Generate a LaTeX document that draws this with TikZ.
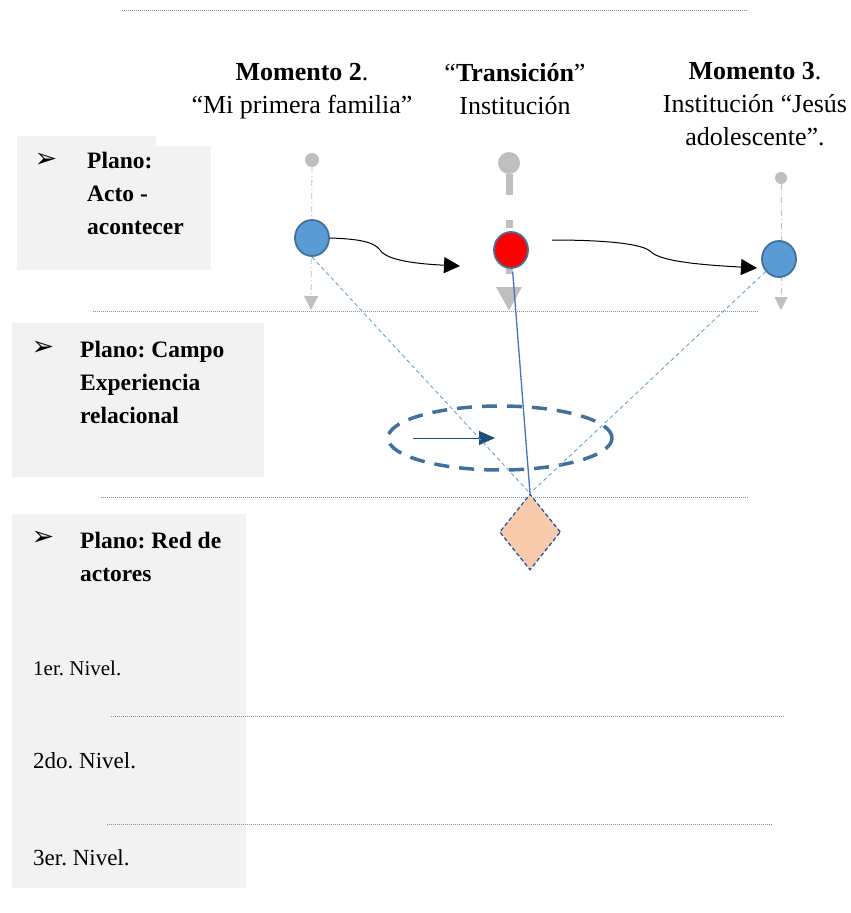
\documentclass[tikz,border=0pt]{standalone}
\usepackage{fontspec}
\setmainfont{Liberation Serif}
\newfontfamily\dvs{DejaVu Sans}
\usetikzlibrary{arrows.meta,shapes.geometric}
\frenchspacing
\definecolor{panel}{HTML}{F2F2F2}
\definecolor{sepline}{HTML}{8C8C9C}
\definecolor{nodeblue}{HTML}{5B9BD5}
\definecolor{rimblue}{HTML}{41719C}
\definecolor{ghost}{HTML}{BFBFBF}
\definecolor{peach}{HTML}{F8CBAD}
\definecolor{navy}{HTML}{2F5597}
\definecolor{darknavy}{HTML}{1F4E79}
\definecolor{linkblue}{HTML}{4472C4}
\tikzset{
  sep/.style={sepline, line width=0.6pt, dash pattern=on 1pt off 1pt},
  hdr/.style={align=center, inner sep=0pt, font=\fontsize{26}{33}\selectfont},
  lbl/.style={align=left, anchor=north west, inner sep=0pt, font=\fontsize{23.5}{33}\selectfont\bfseries},
  bullet/.style={inner sep=0pt, font=\dvs\fontsize{27}{27}\selectfont},
  lvl/.style={anchor=west, inner sep=0pt},
  bead/.style={ellipse, minimum width=34pt, minimum height=36pt, inner sep=0pt, draw=rimblue, line width=1.8pt, fill=nodeblue},
  dot/.style={circle, inner sep=0pt, fill=ghost},
  ghostline/.style={ghost, line width=0.8pt, dash pattern=on 6pt off 3pt on 1pt off 3pt},
  curvearrow/.style={black, line width=1pt, -{Triangle[width=16pt,length=16pt]}},
  reach/.style={nodeblue, line width=0.8pt, dash pattern=on 4pt off 3pt},
}
\begin{document}
\begin{tikzpicture}[x=1pt,y=-1pt]
\useasboundingbox (0,0) rectangle (851,913);
\fill[white] (0,0) rectangle (851,913);
% panels
\fill[panel] (17,136) rectangle (156,270);
\fill[panel] (17,146) rectangle (211,270);
\fill[panel] (12,323) rectangle (264,477);
\fill[panel] (12,514) rectangle (246,888);
% separators
\draw[sep] (122,10) -- (748,10);
\draw[sep] (93,311) -- (758,311);
\draw[sep] (101,497) -- (748,497);
\draw[sep] (111,716) -- (784,716);
\draw[sep] (107,824) -- (773,824);
% headers
\node[hdr] (h1) at (302,91) {\textbf{Momento 2}.\\“Mi primera familia”};
\node[hdr] (h2) at (515,89) {“\textbf{Transición}”\\Institución};
\node[hdr] (h3) at (755,104) {\textbf{Momento 3}.\\Institución “Jesús\\adolescente”.};
% labels
\node[bullet] (b1) at (46,160) {➢};
\node[lbl] (l1) at (87,152) {Plano:\\Acto -\\acontecer};
\node[bullet] (b2) at (43,348) {➢};
\node[lbl] (l2) at (80,341) {Plano: Campo\\Experiencia\\relacional};
\node[bullet] (b3) at (43,538) {➢};
\node[lbl] (l3) at (80,532) {Plano: Red de\\actores};
\node[lvl, font=\fontsize{21}{21}\selectfont] (n1) at (33,668) {1er. Nivel.};
\node[lvl, font=\fontsize{23}{23}\selectfont] (n2) at (33,761) {2do. Nivel.};
\node[lvl, font=\fontsize{23}{23}\selectfont] (n3) at (33,858) {3er. Nivel.};
% ghost timelines
\node[dot, minimum size=14pt] (d1) at (312,160) {};
\node[dot, minimum size=22pt] (d2) at (509,163) {};
\node[dot, minimum size=12pt] (d3) at (781,178) {};
\coordinate (t1) at (311,310);
\coordinate (t2) at (509,311);
\coordinate (t3) at (781,310);
\draw[ghostline, -{Triangle[width=14pt,length=14pt]}] (d1) -- (t1);
\draw[ghostline, -{Triangle[width=13pt,length=13pt]}] (d3) -- (t3);
\draw[ghost, line width=7pt, dash pattern=on 21pt off 25pt on 8pt off 25pt, -{Triangle[width=24pt,length=24pt]}] (d2) -- (t2);
% ring and inner arrow
\node[ellipse, minimum width=224pt, minimum height=64pt, draw=rimblue, line width=3.5pt, dash pattern=on 15pt off 10pt] (ring) at (500,438) {};
\coordinate (ia) at (413,438);
\coordinate (ib) at (495,438);
\draw[darknavy, line width=1pt, -{Triangle[width=14pt,length=16pt]}] (ia) -- (ib);
% diamond
\node[diamond, minimum width=61pt, minimum height=76pt, inner sep=0pt, fill=peach, draw=navy, line width=1.3pt, dash pattern=on 4pt off 2.5pt] (dm) at (530,532) {};
% beads
\node[bead] (c1) at (312,238) {};
\node[bead, fill=red] (c2) at (511,250) {};
\node[bead] (c3) at (779,259) {};
% curved arrows
\coordinate (k1) at (380,250);
\coordinate (e1) at (460,266);
\coordinate (s2) at (552,240);
\coordinate (k2) at (650,251);
\coordinate (e2) at (757,268);
\draw[curvearrow] (c1.east) .. controls (360,239) and (374,242) .. (k1) .. controls (387,261) and (420,264) .. (e1);
\draw[curvearrow] (s2) .. controls (600,240) and (640,243) .. (k2) .. controls (660,262) and (705,265) .. (e2);
% links to diamond
\draw[reach] (c1.south) -- (dm.north);
\draw[reach] (c3) -- (dm.north);
\draw[linkblue, line width=1.3pt, shorten <=3pt] (c2) -- (dm.north);
\end{tikzpicture}
\end{document}
